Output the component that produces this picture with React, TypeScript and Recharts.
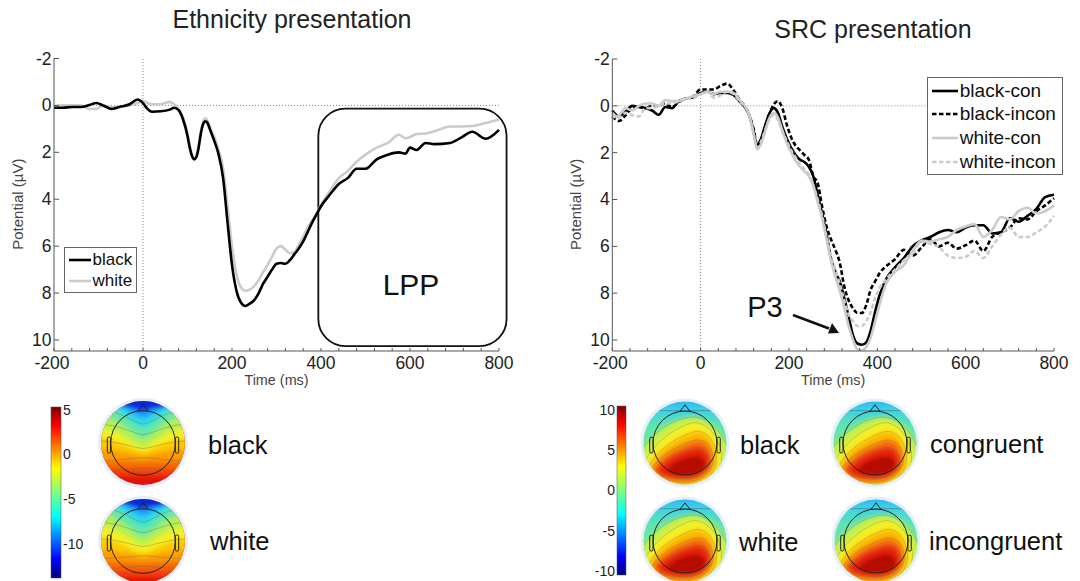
import { LineChart, Line, XAxis, YAxis, ReferenceLine, ReferenceArea, Legend } from "recharts";

const FONT = "'Liberation Sans', Arial, sans-serif";

const leftTimes = [
  -200, -180, -160, -140, -120, -105, -90, -70, -50, -30, -12, 0,
  10, 20, 40, 60, 70, 80, 90, 100, 105, 110,
  115, 120, 125, 130, 135, 140, 145, 150, 160, 170,
  180, 190, 200, 210, 220, 230, 240, 250, 260, 270,
  280, 290, 300, 310, 320, 330, 340, 350, 360, 370,
  380, 390, 400, 420, 440, 460, 480, 500, 525, 550,
  575, 590, 600, 615, 635, 655, 690, 715, 740, 770, 800,
];
const leftBlack = [
  0.1, 0.1, 0.07, 0.07, -0.02, -0.1, 0, 0.15, 0.05, -0.05, -0.25, -0.1,
  0.15, 0.27, 0.25, 0.18, 0.1, 0.2, 0.6, 1.3, 1.8, 2.15,
  2.3, 2.2, 1.8, 1.2, 0.8, 0.68, 0.75, 1.0, 1.5, 2.1,
  3.1, 5.0, 6.8, 7.9, 8.4, 8.55, 8.45, 8.3, 8.0, 7.6,
  7.3, 7.0, 6.75, 6.72, 6.75, 6.6, 6.35, 6.1, 5.8, 5.4,
  5.0, 4.65, 4.3, 3.8, 3.35, 3.1, 2.7, 2.7, 2.3, 2.1,
  2.0, 2.05, 1.8, 1.9, 1.6, 1.65, 1.6, 1.37, 1.12, 1.42, 1.04,
];
const leftWhite = [
  0.05, 0, 0, 0, 0.15, 0.15, 0, 0.08, 0.05, 0, -0.1, -0.2,
  -0.1, -0.05, -0.05, -0.15, -0.05, 0.15, 0.5, 1.2, 1.7, 2.1,
  2.25, 2.15, 1.7, 1.1, 0.7, 0.55, 0.65, 0.9, 1.35, 1.9,
  2.7, 4.3, 6.0, 7.2, 7.75, 7.9, 7.85, 7.7, 7.45, 7.1,
  6.8, 6.45, 6.1, 6.0, 6.15, 6.3, 6.25, 5.95, 5.6, 5.2,
  4.9, 4.6, 4.25, 3.65, 3.1, 2.8, 2.4, 2.1, 1.8, 1.6,
  1.25, 1.4, 1.35, 1.22, 1.2, 1.1, 0.9, 0.9, 0.88, 0.75, 0.6,
];

const rightTimes = [
  -200, -185, -170, -155, -140, -125, -110, -95, -80, -65, -50, -35, -20, 0, 15, 30, 45, 60, 75, 90,
  100, 110, 120, 128, 135, 145, 155, 165, 175, 185, 195, 205, 215, 225, 235, 245, 255,
  265, 275, 285, 295, 305, 315, 325, 335, 345, 355, 365, 375, 385, 395, 405,
  420, 440, 460, 480, 500, 520, 540, 560, 580, 600, 620, 640, 660, 680, 700, 720, 740, 760, 780, 800,
];
const blackCon = [
  0.2, 0.45, 0.25, 0, 0.05, 0.1, 0.2, 0.38, 0.05, 0.1, -0.2, -0.3, -0.35, -0.55, -0.6, -0.5, -0.55, -0.55, -0.45, -0.15,
  0.05, 0.4, 1.1, 1.75, 1.5, 0.9, 0.35, 0.1, 0.3, 0.9, 1.4, 1.8, 2.1, 2.3, 2.4, 2.6, 3.0,
  3.8, 4.6, 5.5, 6.5, 7.1, 7.5, 8.2, 9.0, 9.8, 10.15, 10.2, 10.1, 9.6, 8.8, 8.1,
  7.4, 6.9, 6.5, 6.0, 5.75, 5.6, 5.4, 5.3, 5.4, 5.2, 5.1, 5.1, 5.45, 5.4, 4.8, 4.95, 4.7, 4.4, 3.9, 3.8,
];
const blackIncon = [
  0.45, 0.65, 0.4, 0.1, 0.05, 0.1, 0, 0, -0.1, 0.05, -0.15, -0.3, -0.35, -0.7, -0.7, -0.7, -0.85, -0.95, -0.65, -0.2,
  0, 0.4, 1.0, 1.65, 1.5, 1.0, 0.4, -0.05, -0.2, 0.1, 0.8, 1.35, 1.7, 1.9, 2.1, 2.3, 3.0,
  3.3, 4.3, 5.15, 5.7, 6.15, 6.7, 7.7, 8.3, 8.65, 8.85, 8.85, 8.5, 7.85, 7.5, 7.15,
  6.85, 6.55, 6.15, 6.4, 6.05, 5.7, 6.0, 5.85, 6.1, 5.95, 5.75, 6.2, 5.6, 5.4, 5.2, 4.8, 4.85, 4.5, 4.25, 3.95,
];
const whiteCon = [
  0.5, 0.4, 0.1, 0.2, 0, -0.1, -0.1, 0, -0.25, -0.2, -0.2, -0.3, -0.4, -0.5, -0.6, -0.5, -0.6, -0.6, -0.55, -0.2,
  0, 0.4, 1.2, 1.85, 1.7, 1.15, 0.55, 0.3, 0.5, 1.05, 1.6, 2.0, 2.35, 2.6, 2.8, 3.0, 3.4,
  4.1, 4.8, 5.7, 6.6, 7.3, 7.9, 8.6, 9.4, 10.0, 10.4, 10.45, 10.3, 9.9, 9.2, 8.5,
  7.6, 7.1, 6.8, 6.2, 5.75, 5.8, 5.7, 5.6, 5.3, 5.15, 5.05, 5.6, 5.3, 4.75, 4.85, 4.5, 4.35, 4.6, 4.5, 4.25,
];
const whiteIncon = [
  0.3, 0.5, 0.3, 0.4, 0.45, 0.1, 0.1, 0, -0.1, -0.1, -0.2, -0.3, -0.3, -0.5, -0.6, -0.35, -0.45, -0.6, -0.5, -0.15,
  0, 0.4, 1.2, 1.8, 1.6, 1.1, 0.6, 0.4, 0.6, 1.1, 1.5, 1.9, 2.2, 2.5, 2.7, 2.95, 3.4,
  4.0, 4.7, 5.6, 6.4, 7.0, 7.6, 8.3, 8.9, 9.2, 9.4, 9.4, 9.2, 8.8, 8.2, 7.8,
  7.4, 7.0, 6.6, 6.3, 5.8, 5.9, 6.05, 6.4, 6.5, 6.45, 6.2, 6.5, 6.0, 5.5, 5.2, 5.6, 5.6, 5.4, 5.15, 4.7,
];

const xTicks = [-200, -160, -120, -80, -40, 0, 40, 80, 120, 160, 200, 240, 280, 320, 360, 400, 440, 480, 520, 560, 600, 640, 680, 720, 760, 800];
const yTicks = [-2, 0, 2, 4, 6, 8, 10];
const AXIS_COLOR = "#555";
const GRAY = "#cbcbcb";
const DASH = "4.5 2.5";

const leftRows = leftTimes.map((t, i) => ({ t, black: leftBlack[i], white: leftWhite[i] }));
const rightRows = rightTimes.map((t, i) => ({
  t,
  "black-con": blackCon[i],
  "black-incon": blackIncon[i],
  "white-con": whiteCon[i],
  "white-incon": whiteIncon[i],
}));

const XTick = ({ x, y, payload }: any) => (
  <g>
    <line x1={x} x2={x} y1={y} y2={y - 3} stroke={AXIS_COLOR} />
    {payload.value % 200 === 0 && (
      <text x={payload.value === -200 ? x - 2 : x} y={y + 18} textAnchor="middle" fontSize={17.5} fill="#222">{payload.value}</text>
    )}
  </g>
);

const YTick = ({ x, y, payload }: any) => (
  <g>
    <line x1={x} x2={x + 5} y1={y} y2={y} stroke={AXIS_COLOR} />
    <text x={x - 2.5} y={y + 6} textAnchor="end" fontSize={17.5} fill="#222">{payload.value}</text>
  </g>
);

const LegendBox = ({ items, width, rowH, fontSize, swatch }: any) => (
  <div style={{ width, boxSizing: "border-box", border: "1px solid #666", background: "#fff", padding: "1px 0 1px 4px", fontFamily: FONT, color: "#111", fontSize, lineHeight: `${rowH}px` }}>
    {items.map((it: any) => (
      <div key={it.name} style={{ display: "flex", alignItems: "center", height: rowH }}>
        <svg width={swatch} height={6} style={{ marginRight: 1.5, flex: "none" }}>
          <line x1={0} x2={swatch} y1={3} y2={3} stroke={it.color} strokeWidth={2.6} strokeDasharray={it.dash} />
        </svg>
        <span>{it.name}</span>
      </div>
    ))}
  </div>
);

const LppBox = ({ x, y, width, height }: any) => (
  <rect x={x} y={y} width={width} height={height} rx={27} ry={27} fill="none" stroke="#111" strokeWidth={1.8} />
);

// topography maps ---------------------------------------------------------
const jetStops = [
  [0, "#7f0000"], [0.11, "#ff0000"], [0.36, "#ffff00"], [0.5, "#7fff7f"], [0.64, "#00ffff"], [0.89, "#0000ff"], [1, "#00007f"],
];
const vCurve = (side: number, mid: number) =>
  `-1.1,${side} C-.55,${side} -.2,${mid} 0,${mid} C.2,${mid} .55,${side} 1.1,${side}`;

// color, y at the sides, y at the middle (unit circle, y down)
const ethnicityBands: [string, number, number][] = [
  ["#f23a0c", 0.8, 0.8],
  ["#f86a06", 0.62, 0.62],
  ["#fb9a04", 0.42, 0.45],
  ["#fdc803", 0.15, 0.3],
  ["#f4f020", -0.12, 0.2],
  ["#b4f050", -0.35, 0.1],
  ["#68e8a0", -0.65, -0.1],
  ["#30dce0", -0.88, -0.35],
  ["#20a8ff", -1.0, -0.58],
  ["#1060f4", -1.1, -0.72],
];
const ethnicityContours: [number, number][] = [[-0.8, -0.45], [-0.45, -0.2], [-0.05, 0.13], [0.42, 0.35], [0.65, 0.6]];

const srcBlobs = [
  { color: "#c8f048", d: "M-1.1,.3 C-.9,-.15 -.4,-.55 .1,-.62 C.5,-.68 .95,-.3 1.1,.35 L1.1,1.1 L-1.1,1.1 Z" },
  { color: "#f6ee20", d: "M-1,.5 C-.8,.05 -.3,-.35 .15,-.48 C.5,-.56 .85,-.15 .88,.3 C.9,.8 .5,1.1 0,1.1 C-.5,1.1 -.98,.9 -1,.5 Z" },
  { color: "#fdb806", d: "M-.88,.58 C-.7,.18 -.25,-.1 .15,-.25 C.5,-.38 .72,-.05 .76,.3 C.78,.75 .45,1.02 0,1.02 C-.45,1.02 -.86,.9 -.88,.58 Z" },
  { color: "#f56a08", d: "M-.78,.6 C-.6,.3 -.2,.08 .18,-.05 C.48,-.15 .66,.1 .68,.38 C.68,.72 .35,.94 0,.94 C-.4,.94 -.78,.85 -.78,.6 Z" },
  { color: "#e62208", d: "M-.66,.62 C-.48,.38 -.15,.22 .2,.12 C.44,.06 .58,.22 .6,.45 C.6,.7 .3,.86 0,.86 C-.32,.86 -.66,.8 -.66,.62 Z" },
  { color: "#b40a06", d: "M-.42,.62 C-.28,.45 0,.35 .22,.32 C.44,.3 .5,.45 .48,.56 C.44,.72 .2,.78 0,.78 C-.2,.78 -.44,.74 -.42,.62 Z" },
];

const Head = () => (
  <g fill="none" stroke="#222" strokeWidth={1}>
    <circle r={0.77} vectorEffect="non-scaling-stroke" />
    <path d="M-.12,-.77 Q-.05,-.85 0,-.92 Q.05,-.85 .12,-.77" vectorEffect="non-scaling-stroke" />
    <rect x={-0.85} y={-0.14} width={0.08} height={0.38} rx={0.03} vectorEffect="non-scaling-stroke" />
    <rect x={0.77} y={-0.14} width={0.08} height={0.38} rx={0.03} vectorEffect="non-scaling-stroke" />
  </g>
);

const EthnicityMap = ({ cx, cy, shift }: { cx: number; cy: number; shift: number }) => (
  <g transform={`translate(${cx},${cy}) scale(42)`}>
    <circle r={1.07} fill="#e6eefb" />
    <g clipPath="url(#unitDisk)">
      <rect x={-1.1} y={-1.1} width={2.2} height={2.2} fill="#e01408" />
      <g filter="url(#mapBlur)">
        {ethnicityBands.map(([c, s, m], i) => (
          <path key={c} d={`M-1.1,-1.2 L${vCurve(s + (i < 5 ? shift : 0), m + (i < 5 ? shift : 0))} L1.1,-1.2 Z`} fill={c} />
        ))}
        <ellipse cx={0.05} cy={-1} rx={0.62} ry={0.2} fill="#0a28d8" />
      </g>
      {ethnicityContours.map(([s, m]) => (
        <path key={s} d={`M${vCurve(s, m)}`} fill="none" stroke="#666" strokeWidth={0.5} opacity={0.7} vectorEffect="non-scaling-stroke" />
      ))}
    </g>
    <Head />
  </g>
);

const SrcMap = ({ cx, cy }: { cx: number; cy: number }) => (
  <g transform={`translate(${cx},${cy}) scale(41.5)`}>
    <circle r={1.07} fill="#e6eefb" />
    <g clipPath="url(#unitDisk)">
      <rect x={-1.1} y={-1.1} width={2.2} height={2.2} fill="url(#srcBase)" />
      <g filter="url(#mapBlur)">
        {srcBlobs.map((b) => <path key={b.color} d={b.d} fill={b.color} />)}
      </g>
      {srcBlobs.slice(0, 5).map((b) => (
        <path key={b.color} d={b.d} fill="none" stroke="#666" strokeWidth={0.5} opacity={0.55} vectorEffect="non-scaling-stroke" />
      ))}
      <path d="M-1.1,-.78 L1.1,-.78" stroke="#557" strokeWidth={0.5} vectorEffect="non-scaling-stroke" />
    </g>
    <Head />
  </g>
);

const ColorBar = ({ x, y, h, w, labels, labelRight }: any) => (
  <g fontFamily={FONT}>
    <rect x={x} y={y} width={w} height={h} fill="url(#jet)" stroke="#555" strokeWidth={0.5} />
    {labels.map(([txt, ly]: [string, number]) => (
      <text key={txt} x={labelRight ? x + w + 2 : x - 2} y={ly + 5} fontSize={14} textAnchor={labelRight ? "start" : "end"} fill="#222">{txt}</text>
    ))}
  </g>
);

const mapLabels: [string, number, number][] = [
  ["black", 208, 454], ["white", 210, 550], ["black", 740, 454], ["white", 739, 551], ["congruent", 930, 453], ["incongruent", 929, 550],
];

export default function App() {
  return (
    <div style={{ position: "absolute", left: 0, top: 0, width: 1080, height: 581, overflow: "hidden", background: "#fff", fontFamily: FONT }}>
      <div style={{ position: "absolute", left: 0, top: 40 }}>
        <LineChart width={530} height={360} data={leftRows} margin={{ top: 18.5, right: 31, bottom: 15, left: 0 }} style={{ fontFamily: FONT }}>
          <XAxis
            dataKey="t" type="number" domain={[-200, 800]} ticks={xTicks} interval={0} height={34}
            tick={<XTick />} tickLine={false} tickSize={0} tickMargin={0} stroke={AXIS_COLOR}
            label={{ value: "Time (ms)", position: "insideBottom", offset: 0, fontSize: 14.4, fill: "#444" }}
          />
          <YAxis
            type="number" reversed domain={[-2, 10.47]} ticks={yTicks} interval={0} width={54}
            tick={<YTick />} tickLine={false} tickSize={0} tickMargin={0} stroke={AXIS_COLOR} allowDataOverflow
            label={{ value: "Potential (\u00b5V)", angle: -90, position: "insideLeft", offset: 0, fontSize: 15, fill: "#444", dx: 18, dy: 45 }}
          />
          <ReferenceLine x={0} stroke="#888" strokeDasharray="1 2" />
          <ReferenceLine y={0} stroke="#888" strokeDasharray="1 2" />
          <Line dataKey="white" name="white" stroke={GRAY} strokeWidth={2.6} dot={false} type="monotone" isAnimationActive={false} />
          <Line dataKey="black" name="black" stroke="#000" strokeWidth={2.6} dot={false} type="monotone" isAnimationActive={false} />
          <ReferenceArea x1={394} x2={817} y1={0.14} y2={10.26} ifOverflow="visible" shape={<LppBox />} />
          <Legend
            layout="horizontal" verticalAlign="middle"
            wrapperStyle={{ left: 64, top: 207, width: 73, height: 45, bottom: "auto", right: "auto" }}
            content={() => <LegendBox width={73} rowH={21} fontSize={17} swatch={22} items={[{ name: "black", color: "#000" }, { name: "white", color: GRAY }]} />}
          />
        </LineChart>
      </div>

      <div style={{ position: "absolute", left: 550, top: 41 }}>
        <LineChart width={530} height={359} data={rightRows} margin={{ top: 18, right: 26, bottom: 15, left: 0 }} style={{ fontFamily: FONT }}>
          <XAxis
            dataKey="t" type="number" domain={[-200, 800]} ticks={xTicks} interval={0} height={34}
            tick={<XTick />} tickLine={false} tickSize={0} tickMargin={0} stroke={AXIS_COLOR}
            label={{ value: "Time (ms)", position: "insideBottom", offset: 0, fontSize: 14.4, fill: "#444" }}
          />
          <YAxis
            type="number" reversed domain={[-2, 10.47]} ticks={yTicks} interval={0} width={62.3}
            tick={<YTick />} tickLine={false} tickSize={0} tickMargin={0} stroke={AXIS_COLOR} allowDataOverflow
            label={{ value: "Potential (\u00b5V)", angle: -90, position: "insideLeft", offset: 0, fontSize: 15, fill: "#444", dx: 26, dy: 45 }}
          />
          <ReferenceLine x={0} stroke="#888" strokeDasharray="1 2" />
          <ReferenceLine y={0} stroke="#888" strokeDasharray="1 2" />
          <Line dataKey="black-con" name="black-con" stroke="#000" strokeWidth={2.6} dot={false} type="monotone" isAnimationActive={false} />
          <Line dataKey="black-incon" name="black-incon" stroke="#000" strokeWidth={2.6} strokeDasharray={DASH} dot={false} type="monotone" isAnimationActive={false} />
          <Line dataKey="white-con" name="white-con" stroke={GRAY} strokeWidth={2.6} dot={false} type="monotone" isAnimationActive={false} />
          <Line dataKey="white-incon" name="white-incon" stroke={GRAY} strokeWidth={2.6} strokeDasharray={DASH} dot={false} type="monotone" isAnimationActive={false} />
          <Legend
            layout="horizontal" verticalAlign="middle"
            wrapperStyle={{ left: 377.3, top: 35.7, width: 135.4, height: 98, bottom: "auto", right: "auto" }}
            content={() => (
              <LegendBox width={135.4} rowH={23.7} fontSize={19} swatch={26} items={[
                { name: "black-con", color: "#000" },
                { name: "black-incon", color: "#000", dash: DASH },
                { name: "white-con", color: GRAY },
                { name: "white-incon", color: GRAY, dash: DASH },
              ]} />
            )}
          />
        </LineChart>
      </div>

      <svg width={1080} height={581} style={{ position: "absolute", left: 0, top: 0, pointerEvents: "none" }}>
        <defs>
          <clipPath id="unitDisk"><circle r={1} /></clipPath>
          <filter id="mapBlur" x="-20%" y="-20%" width="140%" height="140%"><feGaussianBlur stdDeviation={0.055} /></filter>
          <linearGradient id="jet" x1="0" y1="0" x2="0" y2="1">
            {jetStops.map(([o, c]) => <stop key={o as number} offset={o as number} stopColor={c as string} />)}
          </linearGradient>
          <linearGradient id="srcBase" x1="0" y1="0" x2="0" y2="1">
            <stop offset="0" stopColor="#2aa8f4" />
            <stop offset="0.12" stopColor="#38d0e8" />
            <stop offset="0.32" stopColor="#60e4b0" />
            <stop offset="1" stopColor="#90ec70" />
          </linearGradient>
        </defs>

        <text x={292} y={28} textAnchor="middle" fontSize={25} fontFamily={FONT} fill="#222">Ethnicity presentation</text>
        <text x={873} y={38} textAnchor="middle" fontSize={25} fontFamily={FONT} fill="#222">SRC presentation</text>
        <text x={411} y={295} textAnchor="middle" fontSize={30} fontFamily={FONT} fill="#111">LPP</text>
        <text x={765} y={317} textAnchor="middle" fontSize={29} fontFamily={FONT} fill="#111">P3</text>
        <line x1={793} y1={315} x2={829} y2={328.5} stroke="#111" strokeWidth={2.8} />
        <path d="M839,333 L828,333.5 L832,323 Z" fill="#111" />

        <ColorBar x={51} y={407} w={10} h={171} labelRight labels={[["5", 410], ["0", 454], ["-5", 499], ["-10", 544]]} />
        <ColorBar x={617} y={406} w={9} h={169} labels={[["10", 410], ["5", 450], ["0", 490], ["-5", 531], ["-10", 571]]} />

        <EthnicityMap cx={143} cy={443} shift={0} />
        <EthnicityMap cx={143} cy={541} shift={0.07} />
        <SrcMap cx={685} cy={443} />
        <SrcMap cx={685} cy={541} />
        <SrcMap cx={875} cy={443} />
        <SrcMap cx={876} cy={541} />

        {mapLabels.map(([txt, x, y]) => (
          <text key={`${txt}${x}`} x={x} y={y} fontSize={25.5} fontFamily={FONT} fill="#111">{txt}</text>
        ))}
      </svg>
    </div>
  );
}
